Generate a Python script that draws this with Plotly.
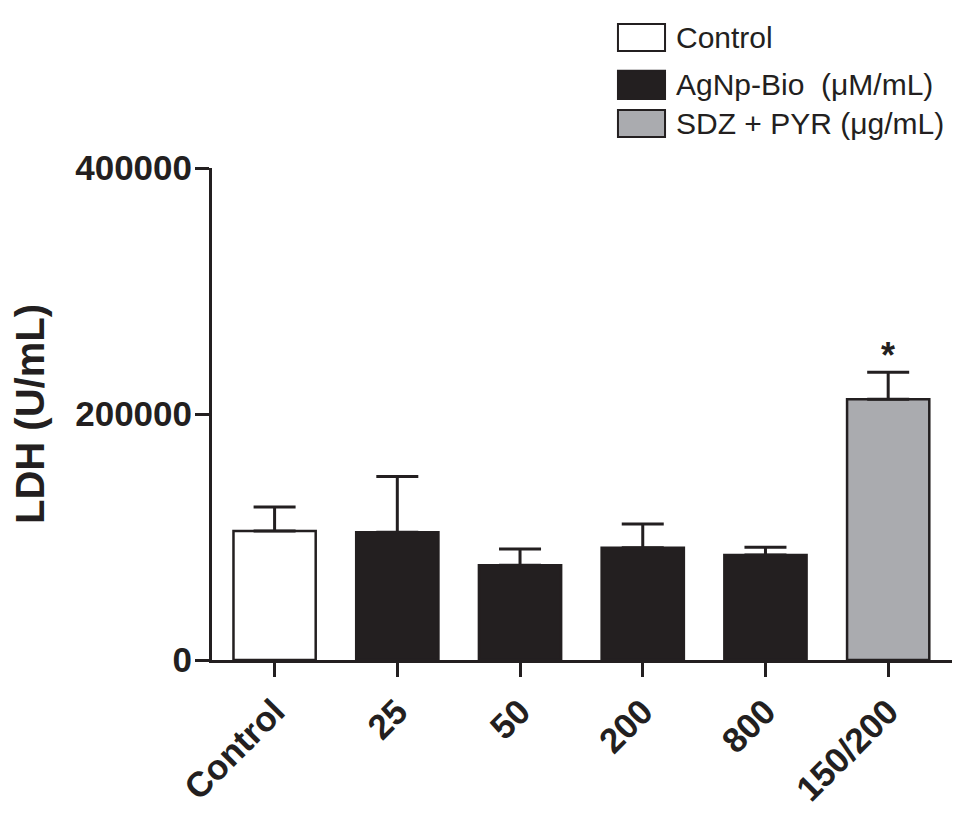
import plotly.graph_objects as go

categories = ["Control", "25", "50", "200", "800", "150/200"]
groups = ["Control", "AgNp", "AgNp", "AgNp", "AgNp", "SDZ"]
ldh_mean = [104900, 103800, 77100, 91300, 85300, 212000]
ldh_err = [19500, 45400, 13100, 19300, 6300, 22000]
significant = [False, False, False, False, False, True]

legend_labels = ["Control", "AgNp-Bio  (\u03bcM/mL)", "SDZ + PYR (\u03bcg/mL)"]

dark = "#231f20"
fills = {"Control": "#ffffff", "AgNp": dark, "SDZ": "#aaabaf"}
bar_colors = [fills[g] for g in groups]

fig = go.Figure()
fig.add_trace(go.Bar(
    x=categories, y=ldh_mean, width=0.67,
    marker=dict(color=bar_colors, line=dict(color=dark, width=2.5)),
    error_y=dict(type="data", array=ldh_err, arrayminus=[0] * len(ldh_err),
                 symmetric=False, color=dark, thickness=3, width=21),
    showlegend=False,
))

# significance marks
for cat, m, e, s in zip(categories, ldh_mean, ldh_err, significant):
    if s:
        fig.add_annotation(x=cat, y=m + e, text="<b>*</b>", showarrow=False,
                           yanchor="bottom", yshift=-6,
                           font=dict(family="Liberation Sans", size=36, color=dark))

# hand-drawn legend in the top right corner
box_x0, box_x1, text_x = 0.5486, 0.6122, 0.624
box_rows = [(1.2378, 1.2927), (1.1402, 1.1978), (1.0630, 1.1179)]
for key, label, (y0, y1) in zip(["Control", "AgNp", "SDZ"], legend_labels, box_rows):
    fig.add_shape(type="rect", xref="paper", yref="paper",
                  x0=box_x0, x1=box_x1, y0=y0, y1=y1,
                  fillcolor=fills[key], line=dict(color=dark, width=2))
    fig.add_annotation(xref="paper", yref="paper", x=text_x, y=(y0 + y1) / 2,
                       text=label, showarrow=False, xanchor="left", yanchor="middle",
                       font=dict(family="Liberation Sans", size=30, color=dark))

# page body keeps an 8px margin, so the figure starts 8px in
fig.update_layout(
    width=967, height=823,
    margin=dict(l=204, r=23, t=160, b=171),
    paper_bgcolor="white", plot_bgcolor="white",
    font=dict(family="Liberation Sans", color=dark),
    xaxis=dict(
        range=[-0.51, 5.52], showline=True, linewidth=3, linecolor=dark,
        ticks="outside", ticklen=14, tickwidth=3, tickcolor=dark,
        tickangle=-45, showgrid=False, zeroline=False,
        tickfont=dict(family="Liberation Sans", size=35, weight="bold", color=dark),
    ),
    yaxis=dict(
        range=[0, 400000], tickvals=[0, 200000, 400000], tickformat="d",
        showline=True, linewidth=3, linecolor=dark,
        ticks="outside", ticklen=14, tickwidth=3, tickcolor=dark,
        ticklabelstandoff=-4,
        showgrid=False, zeroline=False,
        tickfont=dict(family="Liberation Sans", size=35, weight="bold", color=dark),
        title=dict(text="LDH (U/mL)", standoff=24,
                   font=dict(family="Liberation Sans", size=40, weight="bold", color=dark)),
    ),
)

fig.write_html("out.html")
